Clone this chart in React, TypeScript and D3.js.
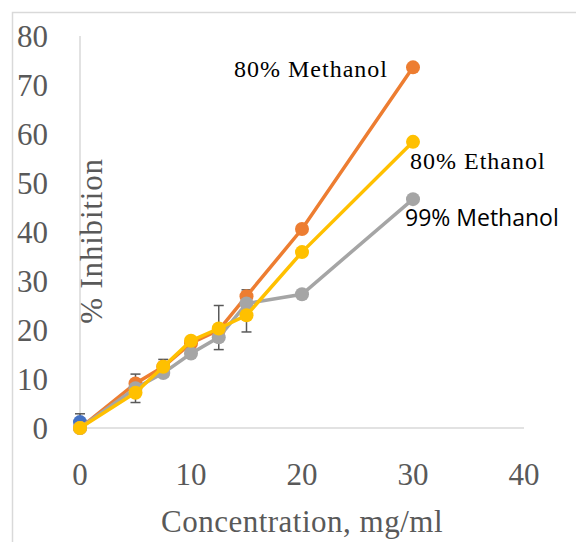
import React from "react";
import * as d3 from "d3";

const concentrations = [0, 5, 7.5, 10, 12.5, 15, 20, 30];
const methanol80 = [0, 9.1, 12.5, 17.3, 20, 26.9, 40.6, 73.6];
const methanol99 = [0, 8.1, 11.2, 15.2, 18.5, 25.4, 27.3, 46.7];
const ethanol80 = [0, 7.2, 12.5, 17.8, 20.3, 23, 35.9, 58.4];
const controlX = [0];
const controlY = [1.2];

// error bars (x, centre, half-length)
const errX = [0, 5, 7.5, 12.5, 15];
const errMean = [1.2, 8.1, 12.2, 20.5, 23.9];
const errSd = [1.7, 2.9, 1.8, 4.5, 4.3];

const xTicks = [0, 10, 20, 30, 40];
const yTicks = [0, 10, 20, 30, 40, 50, 60, 70, 80];

const series = [
  { name: "", xs: controlX, ys: controlY, color: "#4472C4" },
  { name: "80% Methanol", xs: concentrations, ys: methanol80, color: "#ED7D31" },
  { name: "99% Methanol", xs: concentrations, ys: methanol99, color: "#A5A5A5" },
  { name: "80% Ethanol", xs: concentrations, ys: ethanol80, color: "#FFC000" },
];

const App = () => {
  const width = 576;
  const height = 542;
  const x = d3.scaleLinear().domain([0, 40]).range([80, 524]);
  const y = d3.scaleLinear().domain([0, 80]).range([428, 36]);
  const line = d3.line<[number, number]>().x(d => x(d[0])).y(d => y(d[1]));
  const tickFont = "'Liberation Serif', serif";

  const last = (s: typeof series[0]) => [x(s.xs[s.xs.length - 1]), y(s.ys[s.ys.length - 1])];
  const [mx, my] = last(series[1]);
  const [gx, gy] = last(series[2]);
  const [ex, ey] = last(series[3]);

  return (
    <svg width={width} height={height} style={{ position: "absolute", left: 0, top: 0 }}>
      <rect x={0} y={0} width={width} height={height} fill="white" />
      <rect x={12.5} y={12.5} width={width + 20} height={height + 20} fill="none" stroke="#D9D9D9" strokeWidth={1.5} />

      {/* axes */}
      <line x1={x(0)} x2={x(0)} y1={y(80)} y2={y(0)} stroke="#D9D9D9" strokeWidth={1.5} />
      <line x1={x(0)} x2={x(40)} y1={y(0)} y2={y(0)} stroke="#D9D9D9" strokeWidth={1.5} />

      {yTicks.map(t => (
        <text key={"y" + t} x={48} y={y(t)} dy="0.34em" textAnchor="end" fontFamily={tickFont} fontSize={31} fill="#595959">{t}</text>
      ))}
      {xTicks.map(t => (
        <text key={"x" + t} x={x(t)} y={474} dy="0.34em" textAnchor="middle" fontFamily={tickFont} fontSize={31} fill="#595959">{t}</text>
      ))}

      <text transform={`translate(102,241) rotate(-90)`} textAnchor="middle" fontFamily={tickFont} fontSize={31} fill="#595959" letterSpacing={0.8}>% Inhibition</text>
      <text x={302} y={532} textAnchor="middle" fontFamily={tickFont} fontSize={31} fill="#595959" letterSpacing={0.5}>Concentration, mg/ml</text>

      {/* error bars */}
      {errX.map((v, i) => {
        const cx = x(v);
        const top = y(errMean[i] + errSd[i]);
        const bot = y(errMean[i] - errSd[i]);
        return (
          <g key={"e" + i} stroke="#595959" strokeWidth={1.5}>
            <line x1={cx} x2={cx} y1={top} y2={bot} />
            <line x1={cx - 5} x2={cx + 5} y1={top} y2={top} />
            <line x1={cx - 5} x2={cx + 5} y1={bot} y2={bot} />
          </g>
        );
      })}

      {series.map(s => {
        const pts = s.xs.map((v, i) => [v, s.ys[i]] as [number, number]);
        return (
          <g key={s.color}>
            {pts.length > 1 && <path d={line(pts) || ""} fill="none" stroke={s.color} strokeWidth={3.5} />}
            {pts.map((p, i) => (
              <circle key={i} cx={x(p[0])} cy={y(p[1])} r={7} fill={s.color} />
            ))}
          </g>
        );
      })}

      <text x={mx - 25} y={my + 10} textAnchor="end" fontFamily={tickFont} fontSize={24} fill="#000" letterSpacing={1}>80% Methanol</text>
      <text x={ex - 3} y={ey + 27} fontFamily={tickFont} fontSize={24} fill="#000" letterSpacing={1}>80% Ethanol</text>
      <text x={gx - 8} y={gy + 27} fontFamily="'Open Sans', sans-serif" fontSize={23} fill="#000">99% Methanol</text>
    </svg>
  );
};

export default App;
